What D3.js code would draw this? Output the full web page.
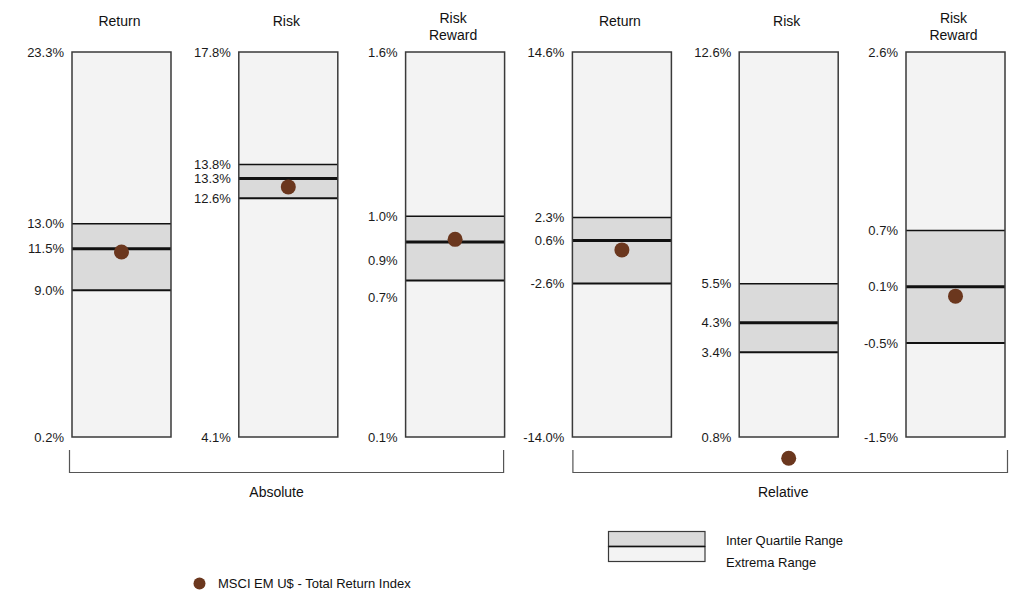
<!DOCTYPE html>
<html>
<head>
<meta charset="utf-8">
<script src="https://cdn.jsdelivr.net/npm/d3@7/dist/d3.min.js"></script>
<style>
  html, body { margin: 0; padding: 0; background: #ffffff; }
  svg { display: block; font-family: "Liberation Sans", Arial, sans-serif; }
</style>
</head>
<body>
<svg id="chart" width="1017" height="596"></svg>
<script>
// ---- data ----
const panelTitles = [["Return"], ["Risk"], ["Risk", "Reward"], ["Return"], ["Risk"], ["Risk", "Reward"]];
const groupNames = ["Absolute", "Relative"];
const extremaMin = [0.2, 4.1, 0.1, -14.0, 0.8, -1.5];
const extremaMax = [23.3, 17.8, 1.6, 14.6, 12.6, 2.6];
const upperQuartile = [13.0, 13.8, 0.96, 2.3, 5.5, 0.7];
const medianValue = [11.5, 13.3, 0.86, 0.6, 4.3, 0.1];
const lowerQuartile = [9.0, 12.6, 0.71, -2.6, 3.4, -0.5];
const indexValue = [11.3, 13.0, 0.87, -0.1, 0.15, 0.0];
const seriesName = "MSCI EM U$ - Total Return Index";
const legendLabels = ["Inter Quartile Range", "Extrema Range"];

// ---- layout ----
const plotTop = 52, plotBottom = 437;
const fs = 13;
const cIQR = "#dadada", cExt = "#f3f3f3", cDot = "#6b371e", cBorder = "#3a3a3a";
const labelNudge = { 2: { median: 18, lower: 17 } };
const bracketPad = [[-2.5, -1], [0.5, 2.5]];
const groupLabelShift = [-10, -7];

const svg = d3.select("#chart");
const px = d3.scaleBand().domain(d3.range(6)).range([72, 1005]).paddingInner(0.4065).paddingOuter(0);
const bw = px.bandwidth();

d3.range(6).forEach(i => {
  const x0 = px(i);
  const y = d3.scaleLinear().domain([extremaMin[i], extremaMax[i]]).range([plotBottom, plotTop]);
  const g = svg.append("g");

  g.append("rect").attr("x", x0).attr("y", y(extremaMax[i])).attr("width", bw)
    .attr("height", y(extremaMin[i]) - y(extremaMax[i]))
    .attr("fill", cExt);
  g.append("rect").attr("x", x0).attr("y", y(upperQuartile[i])).attr("width", bw)
    .attr("height", y(lowerQuartile[i]) - y(upperQuartile[i]))
    .attr("fill", cIQR);
  [[upperQuartile[i], 1.5], [lowerQuartile[i], 2], [medianValue[i], 3]].forEach(([v, sw]) => {
    g.append("line").attr("x1", x0).attr("x2", x0 + bw)
      .attr("y1", y(v)).attr("y2", y(v))
      .attr("stroke", "#111").attr("stroke-width", sw);
  });
  g.append("rect").attr("x", x0).attr("y", y(extremaMax[i])).attr("width", bw)
    .attr("height", y(extremaMin[i]) - y(extremaMax[i]))
    .attr("fill", "none").attr("stroke", cBorder).attr("stroke-width", 1.5);

  const vals = [extremaMax[i], upperQuartile[i], medianValue[i], lowerQuartile[i], extremaMin[i]];
  const keys = ["max", "upper", "median", "lower", "min"];
  const ax = d3.axisLeft(y).tickValues(vals).tickSize(0).tickPadding(8)
    .tickFormat(d => d.toFixed(1) + "%");
  const axg = svg.append("g").attr("transform", `translate(${x0},0)`).call(ax);
  axg.select(".domain").remove();
  axg.selectAll("text").attr("font-size", fs).attr("fill", "#1a1a1a")
    .attr("font-family", "Liberation Sans, Arial, sans-serif");
  axg.selectAll(".tick").each(function(d, k) {
    const nud = labelNudge[i] && labelNudge[i][keys[k]];
    if (nud) d3.select(this).select("text").attr("y", nud);
  });

  const t = svg.append("text").attr("text-anchor", "middle").attr("font-size", 14)
    .attr("fill", "#111");
  const lines = panelTitles[i];
  const y0 = lines.length === 1 ? 21 : 18;
  lines.forEach((s, k) => {
    t.append("tspan").attr("x", x0 + bw / 2 - 2).attr("y", y0 + k * 17.5)
      .attr("dy", "0.35em").text(s);
  });

  g.append("circle").attr("cx", x0 + bw / 2).attr("cy", y(indexValue[i]))
    .attr("r", 7.5).attr("fill", cDot);
});

groupNames.forEach((name, gi) => {
  const xl = px(gi * 3) + bracketPad[gi][0], xr = px(gi * 3 + 2) + bw + bracketPad[gi][1];
  svg.append("path")
    .attr("d", `M${xl},450V472.5H${xr}V450`)
    .attr("fill", "none").attr("stroke", "#555").attr("stroke-width", 1.2);
  svg.append("text").attr("x", (xl + xr) / 2 + groupLabelShift[gi]).attr("y", 492).attr("dy", "0.35em")
    .attr("text-anchor", "middle").attr("font-size", 14).attr("fill", "#111").text(name);
});

svg.append("circle").attr("cx", 199.5).attr("cy", 583.5).attr("r", 6).attr("fill", cDot);
svg.append("text").attr("x", 218).attr("y", 583.5).attr("dy", "0.35em")
  .attr("font-size", fs).attr("fill", "#111").text(seriesName);

const lx = 608.5, lw = 96.5;
svg.append("rect").attr("x", lx).attr("y", 531.5).attr("width", lw).attr("height", 15)
  .attr("fill", cIQR).attr("stroke", cBorder).attr("stroke-width", 1.2);
svg.append("rect").attr("x", lx).attr("y", 546.5).attr("width", lw).attr("height", 15)
  .attr("fill", cExt).attr("stroke", cBorder).attr("stroke-width", 1.2);
svg.append("line").attr("x1", lx).attr("x2", lx + lw).attr("y1", 546.5).attr("y2", 546.5)
  .attr("stroke", "#111").attr("stroke-width", 1.5);
legendLabels.forEach((s, k) => {
  svg.append("text").attr("x", 726).attr("y", 540 + k * 22).attr("dy", "0.35em")
    .attr("font-size", fs).attr("fill", "#111").text(s);
});
</script>
</body>
</html>
